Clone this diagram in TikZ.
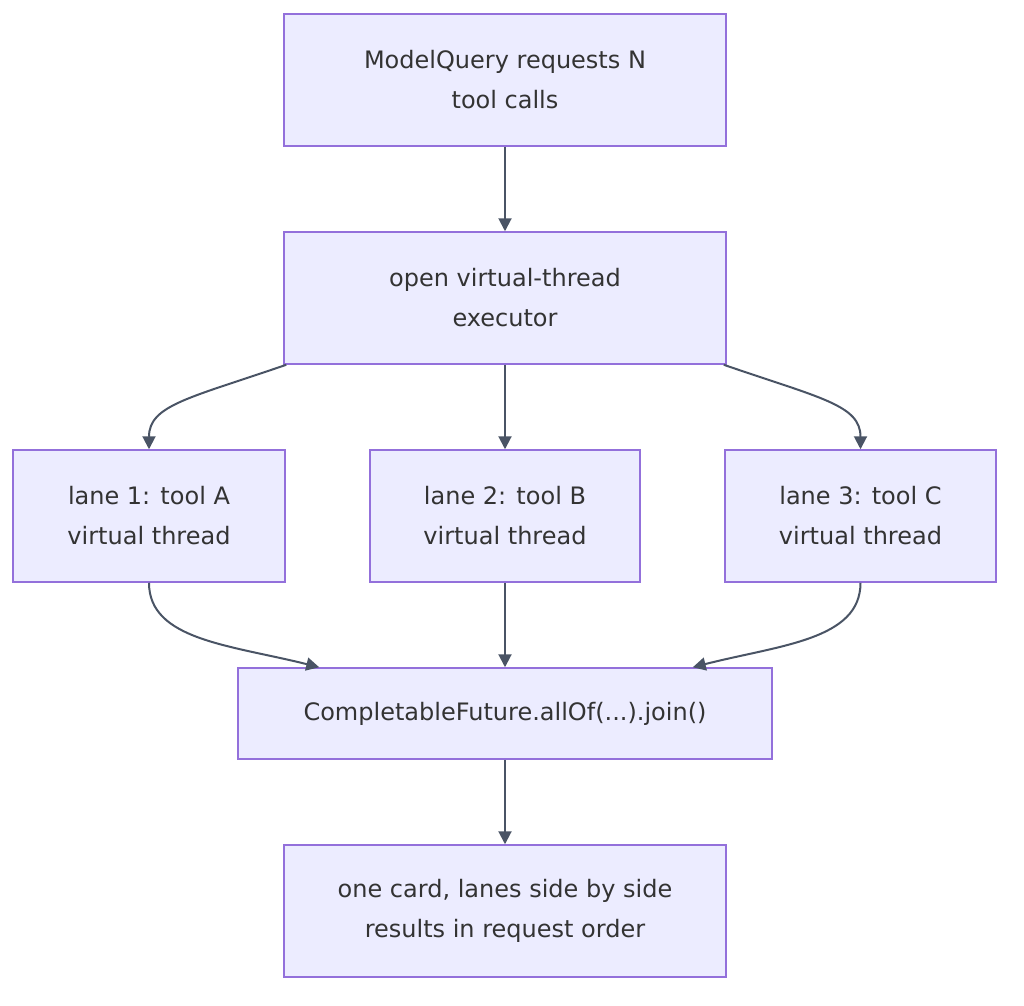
\documentclass[tikz,border=0pt]{standalone}
\usepackage{fontspec}
\setmainfont{DejaVu Sans}
\usetikzlibrary{arrows.meta,calc}
\definecolor{boxfill}{HTML}{ECECFF}
\definecolor{boxline}{HTML}{9370DB}
\definecolor{edgecol}{HTML}{4A5465}
\definecolor{txtcol}{HTML}{333333}
\tikzset{
  box/.style={draw=boxline, fill=boxfill, line width=1.5pt, rectangle, inner sep=0pt,
    text=txtcol, align=center, font=\fontsize{24}{40}\selectfont, minimum height=132pt},
  edge/.style={draw=edgecol, line width=2pt, -{Triangle[length=13pt,width=13pt]}}
}
\begin{document}
\begin{tikzpicture}[x=1pt,y=-1pt]
\useasboundingbox (0,0) rectangle (1024,1005);
\node[box, minimum width=442pt] (n1) at (505,80) {ModelQuery requests N\\tool calls};
\node[box, minimum width=442pt] (n2) at (505,298) {open virtual-thread\\executor};
\node[box, minimum width=272pt] (l1) at (149,516) {lane 1: tool A\\virtual thread};
\node[box, minimum width=270pt] (l2) at (505,516) {lane 2: tool B\\virtual thread};
\node[box, minimum width=271pt] (l3) at (860.5,516) {lane 3: tool C\\virtual thread};
\node[box, minimum width=534pt, minimum height=91pt] (j) at (505,713.5) {CompletableFuture.allOf(...).join()};
\node[box, minimum width=442pt] (last) at (505,911) {one card, lanes side by side\\results in request order};
\draw[edge] (n1) -- (n2);
\draw[edge] (n2) -- (l2);
\draw[edge] ($(n2.south west)+(3,0)$) .. controls (190,398) and (149,405) .. (l1.north);
\draw[edge] ($(n2.south east)+(-3,0)$) .. controls (820,398) and (860.5,405) .. (l3.north);
\draw[edge] (l2) -- (j);
\draw[edge] (l1.south) .. controls (149,640) and (230,645) .. ($(j.north west)+(82,0)$);
\draw[edge] (l3.south) .. controls (860.5,640) and (780,645) .. ($(j.north east)+(-80,0)$);
\draw[edge] (j) -- (last);
\end{tikzpicture}
\end{document}
